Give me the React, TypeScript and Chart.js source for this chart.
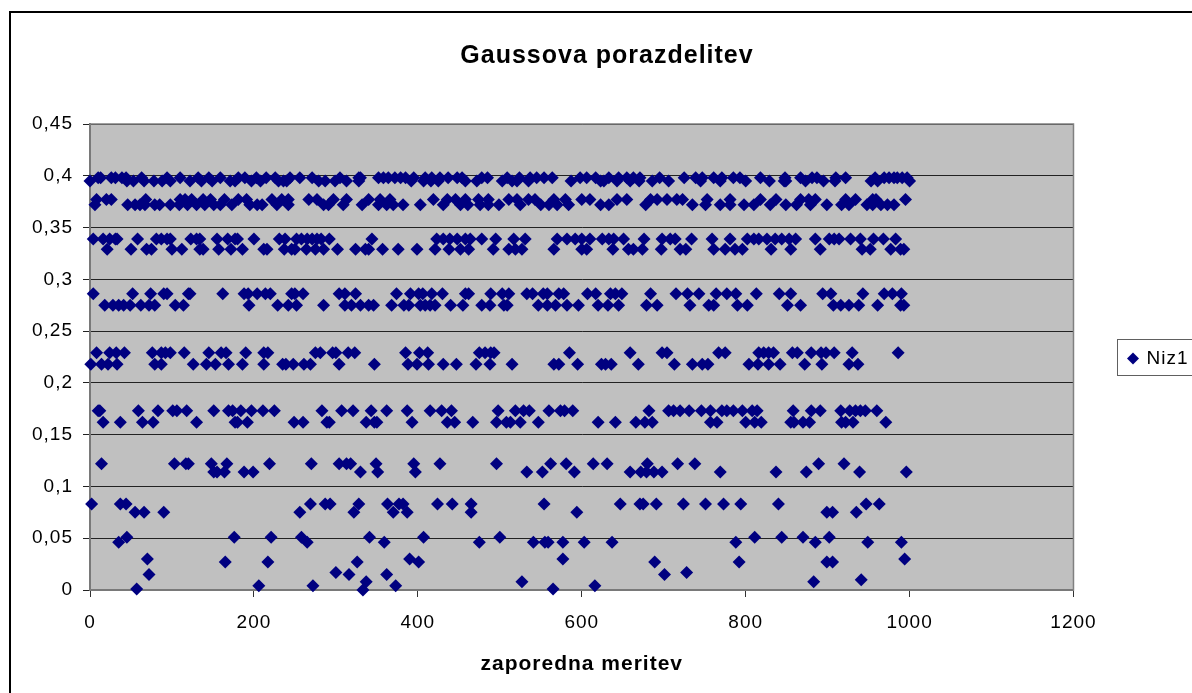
import React, { useEffect, useRef } from "react";
import { Chart, registerables } from "chart.js";

Chart.register(...registerables);

const chartTitle = "Gaussova porazdelitev";
const xAxisTitle = "zaporedna meritev";
const seriesName = "Niz1";

const x0398 = [10,13,26,31,39,44,63,94,110,132,145,159,181,189,203,215,226,244,256,271,305,328,330,352,358,364,372,379,385,395,409,417,427,437,448,454,478,485,509,524,537,545,554,564,598,606,617,633,645,655,663,671,695,725,739,747,761,771,785,793,818,848,867,881,887,910,922,958,969,975,981,985,991,997];
const x0395 = [0,45,53,66,78,88,98,122,136,149,171,177,197,208,230,236,240,279,287,299,313,328,392,407,416,425,458,472,503,515,521,535,587,623,627,643,659,670,686,706,745,769,800,829,847,849,873,895,909,953,961,1000];
const x0377 = [8,20,26,68,110,116,124,138,147,164,181,191,222,234,242,267,277,297,313,340,354,366,419,436,446,458,474,486,511,521,535,543,566,580,600,610,643,655,684,692,704,716,723,753,781,818,837,867,877,885,922,934,955,959,995];
const x0372 = [6,46,55,61,67,79,85,98,109,119,130,140,151,159,173,195,204,210,228,242,285,291,309,332,352,362,370,382,403,431,452,461,476,486,499,525,550,560,570,584,623,633,678,735,751,769,781,798,810,830,849,862,879,899,917,926,948,955,965,973,981];
const x0339 = [4,16,24,31,33,58,81,87,94,98,123,130,134,155,168,177,180,200,231,238,252,258,265,271,277,282,292,344,423,431,439,448,458,464,478,495,517,531,570,582,592,600,610,625,633,639,651,676,698,708,714,734,759,781,802,810,816,826,836,844,853,861,885,902,908,914,928,940,956,968,983];
const x0329 = [21,50,69,75,100,112,134,138,157,172,186,212,216,237,246,250,264,275,285,302,324,336,340,357,376,399,421,438,452,462,492,511,519,527,566,600,606,638,657,663,674,697,720,727,761,775,787,796,831,855,891,942,952,977,989,993];
const x0286 = [4,52,74,90,94,120,122,162,188,193,204,214,220,246,250,260,304,311,324,374,391,401,406,417,430,458,462,489,503,511,533,540,553,558,572,578,607,617,635,641,649,684,715,729,743,764,777,788,813,841,855,894,904,943,969,979,990];
const x0275 = [18,28,35,41,49,62,72,79,104,114,194,229,242,252,285,311,319,330,340,346,368,383,389,403,409,415,421,440,455,478,488,505,509,547,558,568,582,596,620,632,645,679,692,732,755,761,790,802,851,867,907,916,926,938,961,989,993];
const x0229 = [8,24,32,42,76,87,92,98,115,145,160,166,190,212,217,275,281,296,300,315,323,385,402,412,475,482,489,493,585,659,698,704,767,775,816,822,828,834,857,863,880,892,898,908,930,986];
const x0218 = [1,14,22,33,79,87,126,142,153,169,186,212,235,239,248,261,269,304,347,388,399,413,431,447,471,488,515,566,572,595,624,629,636,669,713,735,747,754,804,815,828,842,872,893,926,937];
const x0173 = [10,12,59,83,101,106,118,151,169,174,184,197,211,225,283,307,321,343,362,387,415,429,441,498,519,529,536,560,574,579,589,682,706,712,720,731,746,757,771,777,785,796,808,814,858,880,891,916,927,934,940,946,960];
const x0162 = [16,37,64,77,130,177,180,192,249,260,289,292,337,347,350,393,436,445,467,496,508,513,525,547,620,641,666,677,686,757,765,800,811,819,855,859,870,878,917,922,931,971];
const x0122 = [14,103,117,120,148,167,219,270,304,313,318,349,395,427,496,562,581,614,631,680,717,738,889,920];
const x0114 = [151,155,164,188,199,330,351,397,533,552,591,659,672,679,688,698,769,837,874,939,996];
const x0083 = [2,37,44,269,287,293,328,363,377,382,424,442,465,554,647,671,675,691,724,751,773,794,840,947,963];
const x0075 = [55,66,90,256,322,370,387,465,594,899,906,935];
const x0051 = [45,176,221,258,341,407,500,811,844,870,902];
const x0046 = [35,265,359,475,541,555,559,577,603,637,788,885,949,990];
const x0030 = [70,390,577,994];
const x0027 = [165,217,326,401,689,792,899,906];
const x0017 = [300,728];
const x0015 = [72,316,362,701];
const x0010 = [941];
const x0008 = [337,527,883];
const x0004 = [206,272,373,616];
const x0001 = [57,565];
const x0000 = [333];

const rows: [number, number[]][] = [
  [0.398, x0398], [0.395, x0395], [0.377, x0377], [0.372, x0372], [0.339, x0339],
  [0.329, x0329], [0.286, x0286], [0.275, x0275], [0.229, x0229], [0.218, x0218],
  [0.173, x0173], [0.162, x0162], [0.122, x0122], [0.114, x0114], [0.083, x0083],
  [0.075, x0075], [0.051, x0051], [0.046, x0046], [0.03, x0030], [0.027, x0027],
  [0.017, x0017], [0.015, x0015], [0.01, x0010], [0.008, x0008], [0.004, x0004],
  [0.001, x0001], [0, x0000],
];
const points = rows.flatMap(([y, xs]) => xs.map((x) => ({ x, y })));

const FONT = "'Liberation Sans', Arial, sans-serif";
const NAVY = "#000080";

const framePlugin = {
  id: "frame",
  afterLayout(chart: any) {
    const l = chart.legend;
    const h = l.bottom - l.top;
    l.left = 1119;
    l.right = 1119 + l.width;
    l.top = l.top + 20;
    l.bottom = l.top + h;
    const t = chart.titleBlock;
    t.left = 0;
    t.right = chart.width;
  },
  beforeDraw(chart: any) {
    const { ctx, chartArea: a } = chart;
    ctx.letterSpacing = "1px";
    ctx.save();
    ctx.fillStyle = "#ffffff";
    ctx.fillRect(0, 0, chart.width, chart.height);
    ctx.strokeStyle = "#000000";
    ctx.lineWidth = 2;
    ctx.strokeRect(10, 12, chart.width + 40, chart.height + 40);
    ctx.fillStyle = "#C0C0C0";
    ctx.fillRect(a.left, a.top, a.right - a.left, a.bottom - a.top);
    ctx.lineWidth = 1;
    ctx.strokeStyle = "#606060";
    ctx.strokeRect(1117.5, 339.5, 90, 36);
    ctx.restore();
  },
  beforeDatasetsDraw(chart: any) {
    const { ctx, chartArea: a } = chart;
    ctx.save();
    ctx.strokeStyle = "#808080";
    ctx.lineWidth = 1.5;
    ctx.strokeRect(a.left, a.top, a.right - a.left, a.bottom - a.top);
    ctx.restore();
  },
};

export default function App() {
  const ref = useRef<HTMLCanvasElement>(null);
  useEffect(() => {
    const chart = new Chart(ref.current!, {
      type: "scatter",
      data: {
        datasets: [
          {
            label: seriesName,
            data: points,
            pointStyle: "rectRot",
            pointRadius: 6.5,
            pointBackgroundColor: NAVY,
            pointBorderColor: NAVY,
            pointBorderWidth: 0,
            backgroundColor: NAVY,
            borderColor: NAVY,
            clip: false,
          } as any,
        ],
      },
      plugins: [framePlugin],
      options: {
        responsive: false,
        animation: false,
        devicePixelRatio: 1,
        layout: { padding: { left: 0, right: 65, top: 0, bottom: 16 } },
        plugins: {
          tooltip: { enabled: false },
          title: {
            display: true,
            text: chartTitle,
            color: "#000",
            font: { family: FONT, size: 25, weight: "bold" },
            padding: { top: 41, bottom: 53 },
          },
          legend: {
            position: "right",
            labels: {
              usePointStyle: true,
              pointStyle: "rectRot",
              boxWidth: 8,
              boxHeight: 8.5,
              padding: 10,
              color: "#000",
              font: { family: FONT, size: 19 },
            },
          },
        },
        scales: {
          x: {
            type: "linear",
            min: 0,
            max: 1200,
            afterFit(s: any) { s.height = 87; },
            ticks: {
              stepSize: 200,
              color: "#000",
              padding: 14,
              maxRotation: 0,
              font: { family: FONT, size: 19 },
              callback: (v: any) => String(v),
            },
            grid: { drawOnChartArea: false, color: "#333", tickLength: 7 },
            border: { color: "#666", width: 2 },
            title: {
              display: true,
              text: xAxisTitle,
              color: "#000",
              font: { family: FONT, size: 21, weight: "bold" },
              padding: { top: 12, bottom: 0 },
            },
          },
          y: {
            min: 0,
            max: 0.45,
            afterFit(s: any) { s.width = 90; },
            ticks: {
              stepSize: 0.05,
              color: "#000",
              padding: 10,
              font: { family: FONT, size: 19 },
              callback: (v: any) => String(+Number(v).toFixed(2)).replace(".", ","),
            },
            grid: { color: "#222", lineWidth: 1, tickLength: 7 },
            border: { color: "#666", width: 2 },
          },
        },
      },
    } as any);
    return () => chart.destroy();
  }, []);
  return (
    <div style={{ position: "fixed", left: 0, top: 0, width: 1192, height: 693, overflow: "hidden", background: "#fff" }}>
      <canvas ref={ref} width={1214} height={693} style={{ display: "block" }} />
    </div>
  );
}
